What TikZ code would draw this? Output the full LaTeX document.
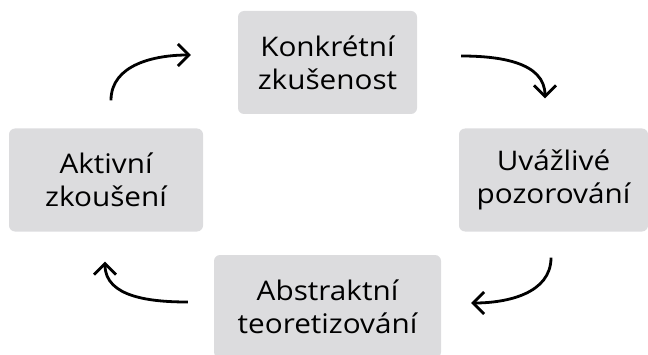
\documentclass[tikz,border=0pt]{standalone}
\usepackage{fontspec}
\setmainfont{Open Sans}[FakeStretch=1.1]
\usetikzlibrary{arrows.meta, calc, positioning}
\definecolor{boxgray}{RGB}{220,220,222}

\tikzset{
  faze/.style={fill=boxgray, rounded corners=6pt, align=center, inner sep=0pt,
    minimum height=103pt, font=\fontsize{27}{33}\selectfont},
  cyklus/.style={line width=2.8pt, -{Straight Barb[length=11pt,width=22pt,line width=2.8pt]}}
}

\begin{document}
\begin{tikzpicture}[x=1pt,y=1pt]
		\useasboundingbox (0,0) rectangle (648,354);
		% faze cyklu
		\node[faze, minimum width=179pt] (konk) at (327.5,291.5) {Konkrétní\\zkušenost};
		\node[faze, minimum width=189pt] (uvaz) at (553.5,174) {Uvážlivé\\pozorování};
		\node[faze, minimum width=227pt] (abst) at (327.5,47.5) {Abstraktní\\teoretizování};
		\node[faze, minimum width=194pt] (akt) at (106,174) {Aktivní\\zkoušení};
		
		% sipky
		\draw[cyklus] ($(akt.north)+(5,28)$) to[out=90,in=180] ($(konk.west)+(-47,7.5)$);
		\draw[cyklus] ($(konk.east)+(44,6.5)$) to[out=0,in=90] ($(uvaz.north)+(-8.5,30)$);
		\draw[cyklus] ($(uvaz.south)+(-2.5,-26)$) to[out=-90,in=0] ($(abst.east)+(30,3.5)$);
		\draw[cyklus] ($(abst.west)+(-26,4.5)$) to[out=180,in=-90] ($(akt.south)+(-1,-30)$);
		
		\end{tikzpicture}
\end{document}
